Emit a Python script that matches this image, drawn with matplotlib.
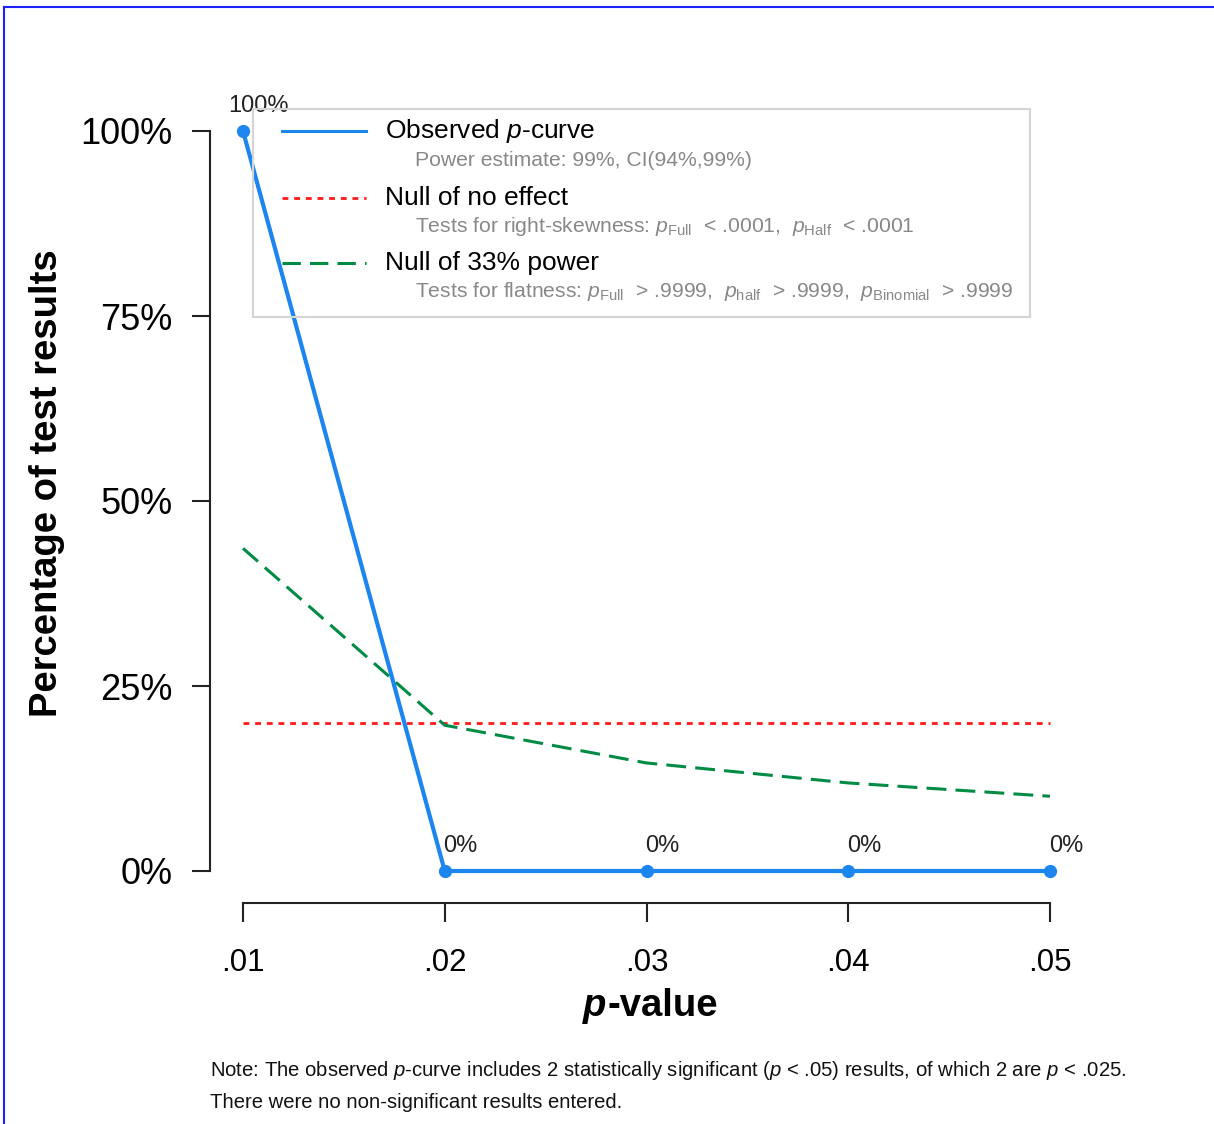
import matplotlib
matplotlib.use("Agg")
import matplotlib.pyplot as plt
from matplotlib.lines import Line2D
from matplotlib.patches import Rectangle
from matplotlib.offsetbox import TextArea, HPacker, AnnotationBbox

plt.rcParams['font.family'] = ['Liberation Sans', 'DejaVu Sans']
plt.rcParams['mathtext.fontset'] = 'custom'
plt.rcParams['mathtext.rm'] = 'Liberation Sans'
plt.rcParams['mathtext.it'] = 'Liberation Sans:italic'
plt.rcParams['mathtext.bf'] = 'Liberation Sans:bold'

# ---- data ----
p_values = [0.01, 0.02, 0.03, 0.04, 0.05]
x_tick_labels = ['.01', '.02', '.03', '.04', '.05']
observed_pct = [100, 0, 0, 0, 0]
null_no_effect_pct = [20, 20, 20, 20, 20]
null_33_power_pct = [43.6, 19.7, 14.6, 11.9, 10.1]
y_ticks = [0, 25, 50, 75, 100]
y_tick_labels = ['0%', '25%', '50%', '75%', '100%']

legend_titles = ['Observed $p$-curve', 'Null of no effect', 'Null of 33% power']
legend_notes = [
    'Power estimate: 99%, CI(94%,99%)',
    r'Tests for right-skewness: $p_{\mathrm{Full}}$  < .0001,  $p_{\mathrm{Half}}$  < .0001',
    r'Tests for flatness: $p_{\mathrm{Full}}$  > .9999,  $p_{\mathrm{half}}$  > .9999,  $p_{\mathrm{Binomial}}$  > .9999',
]
note_lines = [
    'Note: The observed $p$-curve includes 2 statistically significant ($p$ < .05) results, of which 2 are $p$ < .025.',
    'There were no non-significant results entered.',
]

BLUE = '#1c86ee'
RED = '#ff1a1a'
GREEN = '#008b45'

W, H = 1214, 1124
fig = plt.figure(figsize=(W / 100, H / 100), dpi=100)


def fx(px):
    return px / W


def fy(py):
    return 1 - py / H


ax = fig.add_axes([fx(243), fy(871), fx(1050) - fx(243), fy(131) - fy(871)])
ax.set_xlim(p_values[0], p_values[-1])
ax.set_ylim(0, 100)

# curves
ax.plot(p_values, null_no_effect_pct, color=RED, lw=2.0, dashes=(2.1, 2.1), clip_on=False, zorder=2)
ax.plot(p_values, null_33_power_pct, color=GREEN, lw=2.2, dashes=(6.5, 3.0), clip_on=False, zorder=3)
ax.plot(p_values, observed_pct, color=BLUE, lw=3.0, marker='o', ms=8.5, clip_on=False, zorder=4)

for xv, yv in zip(p_values, observed_pct):
    ax.annotate(f'{yv:g}%', (xv, yv), xytext=(11.5, 18), textcoords='offset points',
                ha='center', va='center', fontsize=17, color='#222222', annotation_clip=False)

# axes styling: detached R-style axes
for side in ('top', 'right'):
    ax.spines[side].set_visible(False)
ax.spines['left'].set_position(('outward', 23.8))
ax.spines['bottom'].set_position(('outward', 23))
for side in ('left', 'bottom'):
    ax.spines[side].set_linewidth(1.5)
    ax.spines[side].set_color('#222222')

ax.set_xticks(p_values)
ax.set_xticklabels(x_tick_labels)
ax.set_yticks(y_ticks)
ax.set_yticklabels(y_tick_labels)
ax.tick_params(axis='y', length=13, width=1.5, pad=14, labelsize=26, color='#222222')
ax.tick_params(axis='x', length=13.5, width=1.5, pad=19, labelsize=22.5, color='#222222')

# axis titles
fig.text(fx(47), fy(483), 'Percentage of test results', rotation=90, ha='center', va='center',
         fontsize=27.5, fontweight='bold')
xlab = HPacker(children=[
    TextArea('p', textprops=dict(fontsize=27.5, fontweight='bold', fontstyle='italic')),
    TextArea('-value', textprops=dict(fontsize=27.5, fontweight='bold')),
], align='baseline', pad=0, sep=1)
fig.add_artist(AnnotationBbox(xlab, (fx(650), fy(1006)), xycoords='figure fraction',
                              frameon=False, box_alignment=(0.5, 0.5)))

# legend panel (outline only, curves stay visible through it)
fig.add_artist(Rectangle((fx(253), fy(317)), fx(1030) - fx(253), fy(109) - fy(317),
                         transform=fig.transFigure, facecolor='none', edgecolor='#d4d4d4',
                         lw=1.5, zorder=1))
handle_styles = [
    dict(color=BLUE, lw=2.2),
    dict(color=RED, lw=2.0, dashes=(2.1, 2.1)),
    dict(color=GREEN, lw=2.2, dashes=(6.0, 3.0)),
]
title_rows = [131, 198, 263]
note_rows = [160, 227, 292]
for style, title, note, ty, ny in zip(handle_styles, legend_titles, legend_notes, title_rows, note_rows):
    fig.add_artist(Line2D([fx(282), fx(366)], [fy(ty), fy(ty)], transform=fig.transFigure,
                          zorder=6, **style))
    fig.text(fx(385), fy(ty), title, ha='left', va='center', fontsize=19, zorder=6)
    fig.text(fx(415), fy(ny), note, ha='left', va='center', fontsize=15.2, color='#888888', zorder=6)

# footnote
for line, ly in zip(note_lines, [1071, 1103]):
    fig.text(fx(210), fy(ly), line, ha='left', va='center', fontsize=14.6, color='#111111')

# page frame
fig.add_artist(Line2D([fx(4), fx(W)], [fy(7), fy(7)], transform=fig.transFigure, color='#2020ff', lw=1.5))
fig.add_artist(Line2D([fx(4), fx(4)], [fy(7), fy(H)], transform=fig.transFigure, color='#2020ff', lw=1.5))

fig.savefig('out.png', dpi=100, facecolor='white')
